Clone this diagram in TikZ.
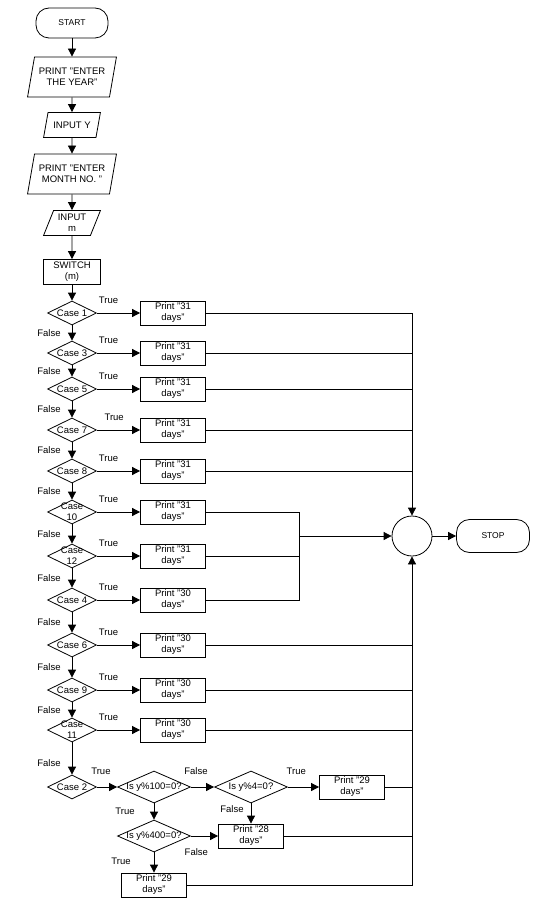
\documentclass[tikz,border=0pt]{standalone}
\usepackage{fontspec}
\setmainfont{Liberation Sans}
\usetikzlibrary{arrows.meta,shapes.geometric,positioning}
\tikzstyle{terminal} = [rectangle, draw, rounded corners=13pt,
    minimum width=72pt, minimum height=30pt, font=\fontsize{8.5}{10}\selectfont]
\tikzstyle{io} = [trapezium, draw, trapezium left angle=72, trapezium right angle=108,
    trapezium stretches=true, minimum width=89pt, minimum height=40pt,
    align=center, inner sep=1pt]
\tikzstyle{smallio} = [io, trapezium left angle=67, trapezium right angle=113,
    minimum width=57pt, minimum height=25pt]
\tikzstyle{block} = [rectangle, draw, minimum width=65pt, minimum height=24pt,
    align=center, inner sep=1pt]
\tikzstyle{junction} = [circle, draw, minimum size=40pt, inner sep=0pt]
\tikzstyle{line} = [draw, -{Triangle[length=8pt,width=8pt]}]
\tikzstyle{link} = [draw]
\tikzstyle{truelbl} = [above=8pt, pos=0.27, inner sep=1pt]
\tikzstyle{falselbl} = [left=10pt, inner sep=1pt]
\tikzset{
  decision/.style={diamond, draw, minimum width=49pt, minimum height=24pt,
    inner sep=0pt, label={[align=center]center:#1}},
  test/.style={decision={#1}, minimum width=73pt, minimum height=32pt}
}
\begin{document}
\begin{tikzpicture}[x=1pt, y=-1pt, on grid, line width=0.8pt,
    every node/.append style={font=\fontsize{9.5}{11}\selectfont}]
        \useasboundingbox (0,0) rectangle (557,901);
        % Place nodes
        \node [terminal] (start) at (72,23) {START};
        \node [io, below=54pt of start] (askyear) {PRINT "ENTER\\THE YEAR"};
        \node [smallio, below=48pt of askyear] (readyear) {INPUT Y};
        \node [io, below=49pt of readyear] (askmonth) {PRINT "ENTER\\MONTH NO. "};
        \node [smallio, below=49pt of askmonth] (readmonth) {INPUT\\m};
        \node [block, minimum width=57pt, minimum height=25pt, below=49pt of readmonth] (switch) {SWITCH\\(m)};
        \node [decision={Case 1}, below=41pt of switch] (case1) {};
        \node [decision={Case 3}, below=40pt of case1] (case3) {};
        \node [decision={Case 5}, below=36pt of case3] (case5) {};
        \node [decision={Case 7}, below=41pt of case5] (case7) {};
        \node [decision={Case 8}, below=41pt of case7] (case8) {};
        \node [decision={Case\\10}, below=41pt of case8] (case10) {};
        \node [decision={Case\\12}, below=44pt of case10] (case12) {};
        \node [decision={Case 4}, below=44pt of case12] (case4) {};
        \node [decision={Case 6}, below=45pt of case4] (case6) {};
        \node [decision={Case 9}, below=45pt of case6] (case9) {};
        \node [decision={Case\\11}, below=40pt of case9] (case11) {};
        \node [decision={Case 2}, below=57pt of case11] (case2) {};
        \node [block, right=101pt of case1] (print1) {Print "31\\days"};
        \node [block, right=101pt of case3] (print3) {Print "31\\days"};
        \node [block, right=101pt of case5] (print5) {Print "31\\days"};
        \node [block, right=101pt of case7] (print7) {Print "31\\days"};
        \node [block, right=101pt of case8] (print8) {Print "31\\days"};
        \node [block, right=101pt of case10] (print10) {Print "31\\days"};
        \node [block, right=101pt of case12] (print12) {Print "31\\days"};
        \node [block, right=101pt of case4] (print4) {Print "30\\days"};
        \node [block, right=101pt of case6] (print6) {Print "30\\days"};
        \node [block, right=101pt of case9] (print9) {Print "30\\days"};
        \node [block, right=101pt of case11] (print11) {Print "30\\days"};
        \node [test={Is y\%100=0?}, right=82pt of case2] (div100) {};
        \node [test={Is y\%4=0?}, right=97pt of div100] (div4) {};
        \node [block, right=101pt of div4] (leap1) {Print "29\\days"};
        \node [test={Is y\%400=0?}, below=49pt of div100] (div400) {};
        \node [block, below=49pt of div4] (common) {Print "28\\days"};
        \node [block, below=49pt of div400] (leap2) {Print "29\\days"};
        \node [junction] (merge) at (412,536) {};
        \node [terminal, minimum width=73pt, minimum height=33pt, right=81pt of merge] (stop) {STOP};
        \coordinate (bus) at (299,536);
        % Draw edges
        \path [line] (start) -- (askyear);
        \path [line] (askyear) -- (readyear);
        \path [line] (readyear) -- (askmonth);
        \path [line] (askmonth) -- (readmonth);
        \path [line] (readmonth) -- (switch);
        \path [line] (switch) -- (case1);
        \path [line] (case1) -- node [falselbl] {False} (case3);
        \path [line] (case3) -- node [falselbl] {False} (case5);
        \path [line] (case5) -- node [falselbl] {False} (case7);
        \path [line] (case7) -- node [falselbl] {False} (case8);
        \path [line] (case8) -- node [falselbl] {False} (case10);
        \path [line] (case10) -- node [falselbl] {False} (case12);
        \path [line] (case12) -- node [falselbl] {False} (case4);
        \path [line] (case4) -- node [falselbl] {False} (case6);
        \path [line] (case6) -- node [falselbl] {False} (case9);
        \path [line] (case9) -- node [falselbl] {False} (case11);
        \path [line] (case11) -- node [falselbl, pos=0.65] {False} (case2);
        \path [line] (case1) -- node [truelbl] {True} (print1);
        \path [line] (case3) -- node [truelbl] {True} (print3);
        \path [line] (case5) -- node [truelbl] {True} (print5);
        \path [line] (case7) -- node [truelbl, pos=0.4] {True} (print7);
        \path [line] (case8) -- node [truelbl] {True} (print8);
        \path [line] (case10) -- node [truelbl] {True} (print10);
        \path [line] (case12) -- node [truelbl] {True} (print12);
        \path [line] (case4) -- node [truelbl] {True} (print4);
        \path [line] (case6) -- node [truelbl] {True} (print6);
        \path [line] (case9) -- node [truelbl] {True} (print9);
        \path [line] (case11) -- node [truelbl] {True} (print11);
        \path [line] (case2) -- node [truelbl, above=11pt, pos=0.2] {True} (div100);
        \path [line] (div100) -- node [truelbl, above=11pt, pos=0.22] {False} (div4);
        \path [line] (div4) -- node [truelbl, above=11pt] {True} (leap1);
        \path [line] (div4) -- node [falselbl, left=6pt, pos=0.3] {False} (common);
        \path [line] (div100) -- node [falselbl, left=18pt] {True} (div400);
        \path [line] (div400) -- node [below=11pt, pos=0.2, inner sep=1pt] {False} (common);
        \path [line] (div400) -- node [falselbl, left=22pt, pos=0.45] {True} (leap2);
        \path [line] (print1) -| (merge);
        \path [link] (print3) -- (print3 -| merge);
        \path [link] (print5) -- (print5 -| merge);
        \path [link] (print7) -- (print7 -| merge);
        \path [link] (print8) -- (print8 -| merge);
        \path [link] (print10) -| (bus);
        \path [link] (print4) -| (bus);
        \path [link] (print12) -- (print12 -| bus);
        \path [line] (bus) -- (merge);
        \path [link] (print6) -- (print6 -| merge);
        \path [link] (print9) -- (print9 -| merge);
        \path [link] (print11) -- (print11 -| merge);
        \path [link] (leap1) -- (leap1 -| merge);
        \path [link] (common) -- (common -| merge);
        \path [line] (leap2) -| (merge);
        \path [line] (merge) -- (stop);
    \end{tikzpicture}
\end{document}
